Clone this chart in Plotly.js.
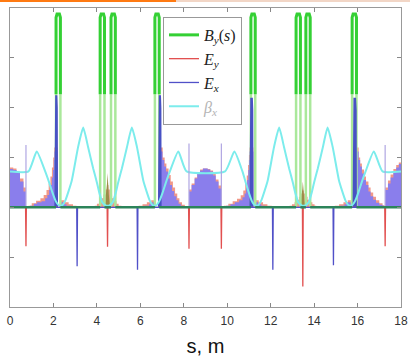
<!DOCTYPE html>
<html><head><meta charset="utf-8">
<script src="https://cdn.plot.ly/plotly-3.0.1.min.js"></script>
<style>html,body{margin:0;padding:0;background:#fff}</style>
</head><body>
<div id="chart" style="width:410px;height:357px"></div>
<script>
// ---------- data ----------
// x axis ticks
const xTickVals = [0, 2, 4, 6, 8, 10, 12, 14, 16, 18];
const xTickText = ['0', '2', '4', '6', '8', '10', '12', '14', '16', '18'];
const yTickVals = [-2, -1, 0, 1, 2, 3, 4];

// B_y(s): magnet pulses (start, end) and peak field
const pulseOn  = [2.12, 4.15, 4.65, 6.67, 11.09, 13.17, 13.62, 15.75];
const pulseOff = [2.32, 4.35, 4.85, 6.87, 11.29, 13.37, 13.82, 15.95];
const byPeak = 3.88;
const byBrightFrom = 2.27;   // above this level the B_y line is bright

// beta_x(s)
const betaS = [0, 0.85, 1.23, 1.62, 1.8, 1.95, 2.1, 2.25, 2.4, 2.55, 2.7, 2.85, 3.14, 3.37, 3.6, 3.83, 4.0, 4.12, 4.25, 4.4, 4.49,
  4.58, 4.73, 4.86, 4.98, 5.15, 5.38, 5.61, 5.84, 6.13, 6.28, 6.43, 6.58, 6.73, 6.88, 7.03, 7.18, 7.36, 7.75, 8.13,
  9.9, 10.33, 10.7, 10.85, 10.99, 11.13, 11.27, 11.42, 11.57, 11.72, 11.87, 12.16, 12.39, 12.62, 12.85, 13.02, 13.14, 13.27, 13.42, 13.5,
  13.6, 13.75, 13.88, 14.0, 14.17, 14.4, 14.62, 14.85, 15.14, 15.29, 15.44, 15.59, 15.74, 15.89, 16.04, 16.19, 16.37, 16.75, 17.15, 18];
const betaV = [0.72, 0.72, 1.12, 0.72, 0.5, 0.3, 0.13, 0.04, 0.04, 0.14, 0.33, 0.55, 1.22, 1.6, 1.2, 0.78, 0.5, 0.28, 0.1, 0.04, 0.03,
  0.04, 0.1, 0.28, 0.5, 0.78, 1.2, 1.6, 1.22, 0.55, 0.33, 0.14, 0.04, 0.04, 0.13, 0.3, 0.5, 0.72, 1.12, 0.72,
  0.72, 1.12, 0.72, 0.5, 0.3, 0.13, 0.04, 0.04, 0.14, 0.33, 0.55, 1.22, 1.6, 1.2, 0.78, 0.5, 0.28, 0.1, 0.04, 0.03,
  0.04, 0.1, 0.28, 0.5, 0.78, 1.2, 1.6, 1.22, 0.55, 0.33, 0.14, 0.04, 0.04, 0.13, 0.3, 0.5, 0.72, 1.12, 0.72, 0.72];

// E_y spikes (red line)
const eySpikeS = [0.735, 4.49, 8.24, 9.73, 13.48, 17.27];
const eySpikeV = [-0.78, -0.79, -0.83, -0.83, -1.59, -0.78];
// E_x spikes (blue line)
const exSpikeS = [3.09, 5.87, 12.10, 14.89];
const exSpikeV = [-1.18, -1.25, -1.25, -1.16];
// thin light marker lines going up
const markS = [0.735, 8.24, 9.73, 17.27];
const markV = [1.25, 1.28, 1.28, 1.25];

// E_x distribution (purple, stepped)
const exDistS = [0, 0.15, 0.3, 0.46, 0.62, 0.735,
  0.92, 1.1, 1.25, 1.45, 1.62, 1.72, 1.8, 1.87, 1.93, 1.98, 2.02, 2.05, 2.2,
  2.33, 2.45, 2.6, 2.8,
  6.2, 6.4, 6.55, 6.67,
  6.82, 7.02, 7.1, 7.18, 7.27, 7.36, 7.46, 7.56, 7.66, 7.76, 7.86, 7.95,
  8.24, 8.36, 8.5, 8.62, 8.75, 8.88, 9.1, 9.22, 9.35, 9.47, 9.6, 9.73,
  9.95, 10.15, 10.35, 10.55, 10.7, 10.8, 10.87, 10.92, 10.97, 11.0, 11.03, 11.2,
  11.29, 11.42, 11.57, 11.75,
  15.2, 15.4, 15.55, 15.69,
  15.96, 16.05, 16.12, 16.2, 16.3, 16.39, 16.5, 16.6, 16.72, 16.85, 17.0, 17.15, 17.22,
  17.27, 17.4, 17.52, 17.65, 17.78, 17.9, 18];
const exDistV = [0.77, 0.75, 0.69, 0.52, 0.32, 0,
  0.03, 0.07, 0.1, 0.12, 0.18, 0.25, 0.35, 0.45, 0.6, 0.75, 0.95, 1.12, 0,
  0.1, 0.06, 0.03, 0,
  0.03, 0.06, 0.1, 0,
  1.12, 0.95, 0.82, 0.72, 0.58, 0.45, 0.33, 0.22, 0.14, 0.07, 0.03, 0,
  0.32, 0.45, 0.58, 0.68, 0.74, 0.78, 0.76, 0.72, 0.64, 0.52, 0.38, 0,
  0.03, 0.06, 0.1, 0.14, 0.2, 0.28, 0.4, 0.55, 0.75, 0.95, 1.12, 0,
  0.1, 0.06, 0.03, 0,
  0.03, 0.06, 0.1, 0,
  1.12, 0.95, 0.82, 0.68, 0.55, 0.45, 0.32, 0.22, 0.15, 0.09, 0.05, 0.03, 0,
  0.35, 0.48, 0.6, 0.72, 0.8, 0.87, 0.87];

// E_y distribution (salmon, stepped)
const eyDistS = [0, 0.15, 0.3, 0.46, 0.62, 0.735,
  0.85, 1.0, 1.2, 1.4, 1.55, 1.68, 1.78, 1.86, 1.93, 1.99, 2.04, 2.2,
  2.33, 2.5, 2.7, 2.9, 3.06,
  3.9, 4.0, 4.1, 4.2, 4.3, 4.4, 4.47, 4.53, 4.6, 4.7, 4.8, 4.9, 5.0, 5.13,
  5.92, 6.1, 6.3, 6.5, 6.67,
  6.82, 7.03, 7.12, 7.2, 7.3, 7.4, 7.5, 7.6, 7.7, 7.8, 7.92, 8.05,
  8.24, 8.36, 8.5, 8.62, 8.75, 8.88, 9.1, 9.22, 9.35, 9.47, 9.6, 9.73,
  9.85, 10.05, 10.25, 10.45, 10.62, 10.74, 10.83, 10.9, 10.96, 11.0, 11.03, 11.2,
  11.29, 11.45, 11.65, 11.85, 12.05,
  12.87, 12.98, 13.1, 13.2, 13.3, 13.4, 13.46, 13.52, 13.6, 13.7, 13.8, 13.92, 14.02, 14.1,
  14.95, 15.15, 15.35, 15.55, 15.69,
  15.96, 16.05, 16.12, 16.2, 16.3, 16.39, 16.5, 16.6, 16.72, 16.85, 17.0, 17.15, 17.25,
  17.27, 17.4, 17.52, 17.65, 17.78, 17.9, 18];
const eyDistV = [0.8, 0.78, 0.72, 0.58, 0.4, 0,
  0.03, 0.08, 0.13, 0.18, 0.25, 0.35, 0.48, 0.62, 0.8, 1.0, 1.2, 0,
  0.14, 0.1, 0.06, 0.03, 0,
  0.03, 0.07, 0.12, 0.18, 0.26, 0.36, 0.45, 0.36, 0.26, 0.18, 0.12, 0.07, 0.03, 0,
  0.03, 0.06, 0.1, 0.14, 0,
  1.2, 1.0, 0.88, 0.78, 0.65, 0.52, 0.4, 0.28, 0.18, 0.1, 0.05, 0,
  0.36, 0.48, 0.6, 0.7, 0.76, 0.78, 0.77, 0.74, 0.67, 0.56, 0.44, 0,
  0.03, 0.07, 0.12, 0.17, 0.24, 0.34, 0.48, 0.64, 0.85, 1.05, 1.2, 0,
  0.14, 0.1, 0.06, 0.03, 0,
  0.03, 0.06, 0.1, 0.15, 0.21, 0.28, 0.34, 0.28, 0.21, 0.15, 0.1, 0.06, 0.03, 0,
  0.03, 0.06, 0.1, 0.14, 0,
  1.2, 1.0, 0.88, 0.76, 0.62, 0.52, 0.4, 0.3, 0.21, 0.14, 0.08, 0.04, 0,
  0.4, 0.54, 0.66, 0.77, 0.85, 0.9, 0.9];

// olive overlap peaks at the centre of each cell
const oliveS = [4.36, 4.43, 4.47, 4.49, 4.51, 4.55, 4.62, null, 13.36, 13.42, 13.46, 13.48, 13.5, 13.54, 13.6];
const oliveV = [0, 0.25, 0.5, 0.69, 0.5, 0.25, 0, null, 0, 0.2, 0.38, 0.52, 0.38, 0.2, 0];

// dark blue E_x peaks at the edge magnets
const peakS = [2.04, 2.05, 2.08, 2.18, 2.2, 2.21, null, 6.81, 6.82, 6.85, 6.95, 6.97, 6.98, null,
  11.02, 11.03, 11.06, 11.18, 11.2, 11.21, null, 15.77, 15.78, 15.81, 15.93, 15.96, 15.97];
const peakV = [0, 2.0, 2.25, 2.25, 2.0, 0, null, 0, 2.0, 2.25, 2.25, 2.0, 0, null,
  0, 1.95, 2.2, 2.2, 1.95, 0, null, 0, 1.95, 2.2, 2.2, 1.95, 0];

// ---------- build line geometry from the data ----------
const S0 = 0, S1 = 18;
function spikeLine(ss, vs, w) {
  const x = [S0], y = [0];
  ss.forEach((s, i) => { x.push(s - w, s, s + w); y.push(0, vs[i], 0); });
  x.push(S1); y.push(0);
  return {x, y};
}
const eyLine = spikeLine(eySpikeS, eySpikeV, 0.018);
const exLine = spikeLine(exSpikeS, exSpikeV, 0.018);
const mk = {x: [], y: []};
markS.forEach((s, i) => { mk.x.push(s, s, null); mk.y.push(0, markV[i], null); });

// lower (pale) part of each pulse, upper (bright) part, and the zero baseline
const low = {x: [], y: []}, up = {x: [], y: []}, base = {x: [S0], y: [0]};
pulseOn.forEach((a, i) => {
  const b = pulseOff[i];
  low.x.push(a, a, null, b, b, null); low.y.push(0, byBrightFrom, null, byBrightFrom, 0, null);
  up.x.push(a, a, a + 0.045, b - 0.045, b, b, null);
  up.y.push(byBrightFrom, byPeak - 0.07, byPeak, byPeak, byPeak - 0.07, byBrightFrom, null);
  base.x.push(a, null, b); base.y.push(0, null, 0);
});
base.x.push(S1); base.y.push(0);

const traces = [
  {x: eyDistS, y: eyDistV, type: 'scatter', mode: 'lines', line: {width: 0, shape: 'hv'},
   fill: 'tozeroy', fillcolor: 'rgb(241,152,136)', showlegend: false, hoverinfo: 'skip'},
  {x: oliveS, y: oliveV, type: 'scatter', mode: 'lines', line: {width: 0},
   fill: 'toself', fillcolor: 'rgb(156,140,72)', showlegend: false, hoverinfo: 'skip'},
  {x: exDistS, y: exDistV, type: 'scatter', mode: 'lines', line: {width: 0, shape: 'hv'},
   fill: 'tozeroy', fillcolor: 'rgb(138,126,236)', showlegend: false, hoverinfo: 'skip'},
  {x: low.x, y: low.y, type: 'scatter', mode: 'lines', line: {color: 'rgb(170,232,155)', width: 2.5},
   showlegend: false, hoverinfo: 'skip'},
  {x: peakS, y: peakV, type: 'scatter', mode: 'lines', line: {width: 0},
   fill: 'toself', fillcolor: 'rgb(72,82,196)', showlegend: false, hoverinfo: 'skip'},
  {x: betaS, y: betaV, type: 'scatter', mode: 'lines', name: '<span style="color:#b4b4b4"><i>β</i><sub><i>x</i></sub></span>',
   line: {color: 'rgb(124,236,236)', width: 2, shape: 'spline', smoothing: 0.5}, legendrank: 4},
  {x: eyLine.x, y: eyLine.y, type: 'scatter', mode: 'lines', name: '<i>E</i><sub><i>y</i></sub>',
   line: {color: 'rgb(226,80,80)', width: 1.3}, legendrank: 2},
  {x: exLine.x, y: exLine.y, type: 'scatter', mode: 'lines', name: '<i>E</i><sub><i>x</i></sub>',
   line: {color: 'rgb(80,80,200)', width: 1.3}, legendrank: 3},
  {x: mk.x, y: mk.y, type: 'scatter', mode: 'lines', line: {color: 'rgb(176,166,226)', width: 1.2},
   showlegend: false, hoverinfo: 'skip'},
  {x: base.x, y: base.y, type: 'scatter', mode: 'lines', line: {color: 'rgb(44,132,90)', width: 2.5},
   showlegend: false, hoverinfo: 'skip'},
  {x: up.x, y: up.y, type: 'scatter', mode: 'lines', name: '<i>B</i><sub><i>y</i></sub>(<i>s</i>)',
   line: {color: 'rgb(52,208,52)', width: 3}, legendrank: 1}
];

const layout = {
  width: 410, height: 357,
  margin: {l: 10, r: 9, t: 8, b: 50},
  paper_bgcolor: '#fff', plot_bgcolor: '#fff',
  showlegend: true,
  xaxis: {range: [S0, S1], tickvals: xTickVals, ticktext: xTickText, ticks: 'inside', ticklen: 4,
    tickcolor: '#888', showline: true, linecolor: '#999', linewidth: 1, mirror: 'ticks',
    showgrid: false, zeroline: false, ticklabelstandoff: 3,
    tickfont: {family: 'Liberation Sans, Arial, sans-serif', size: 12, color: '#333'},
    title: {text: 's, m', font: {family: 'Liberation Sans, Arial, sans-serif', size: 20, color: '#111'}, standoff: 13}},
  yaxis: {range: [-2, 4], tickvals: yTickVals, ticks: 'inside', ticklen: 4, tickcolor: '#888',
    showticklabels: false, showline: true, linecolor: '#999', linewidth: 1, mirror: 'ticks',
    showgrid: false, zeroline: false},
  legend: {x: 0.3913, y: 0.97, xanchor: 'left', yanchor: 'top', bgcolor: '#fff',
    bordercolor: '#999', borderwidth: 1, itemwidth: 30, tracegroupgap: 0,
    font: {family: 'Liberation Serif, Times New Roman, serif', size: 16, color: '#222'}},
  shapes: [
    {type: 'rect', xref: 'paper', yref: 'paper', x0: -0.0256, x1: 0.4246, y0: 1.0201, y1: 1.0268,
     fillcolor: '#ff7a12', line: {width: 0}, layer: 'above'},
    {type: 'rect', xref: 'paper', yref: 'paper', x0: 0.4246, x1: 1.023, y0: 1.0201, y1: 1.0268,
     fillcolor: '#f2d6c6', line: {width: 0}, layer: 'above'}
  ]
};

Plotly.newPlot('chart', traces, layout, {displayModeBar: false, staticPlot: true});
</script>
</body></html>
